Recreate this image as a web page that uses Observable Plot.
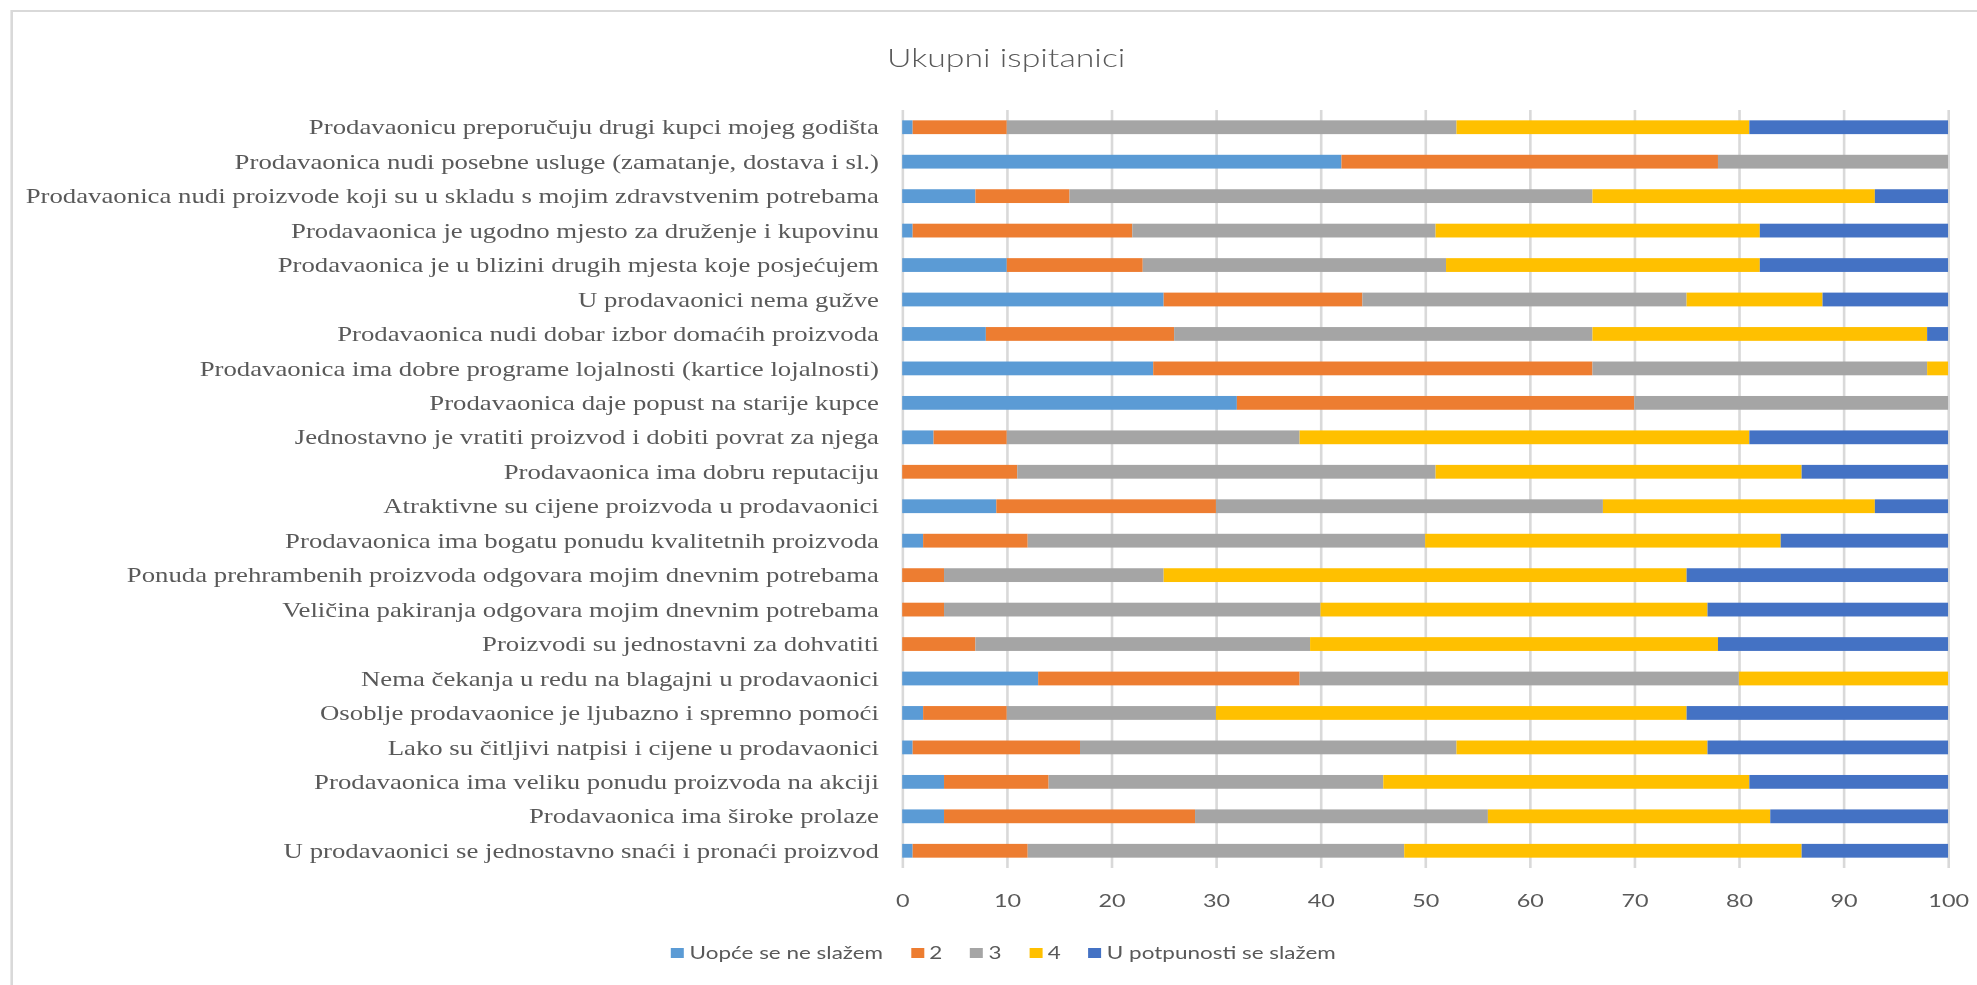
<!DOCTYPE html>
<html>
<head>
<meta charset="utf-8">
<script src="https://cdn.jsdelivr.net/npm/d3@7"></script>
<script src="https://cdn.jsdelivr.net/npm/@observablehq/plot@0.6"></script>
<style>
  html, body { margin:0; padding:0; background:#fff; overflow:hidden; width:1977px; height:985px; }
  #stage { position:absolute; left:0; top:0; width:1521px; height:985px; transform:scaleX(1.3); transform-origin:0 0; }
  #frame { position:absolute; left:7.5px; top:10px; width:1700px; height:1200px; border:2px solid #d9d9d9; box-sizing:border-box; }
  #title { position:absolute; left:0; width:1548px; top:44px; text-align:center; font-family:Lato, sans-serif; font-weight:300; font-size:26px; line-height:26px; color:#595959; }
  #chart { position:absolute; left:0; top:0; }
  #legend { position:absolute; left:0; width:1544px; top:943px; height:20px; display:flex; justify-content:center; align-items:center; font-family:Lato, sans-serif; font-size:17.3px; line-height:20px; color:#595959; }
  .item { display:flex; align-items:center; margin:0 10.75px; }
  .sw { width:10px; height:10px; margin-right:4px; }
  #chart svg [aria-label="y-axis tick label"] text { font-family:"Liberation Serif", "Times New Roman", serif; font-size:20.6px; fill:#595959; }
  #chart svg [aria-label="x-axis tick label"] text { font-family:Lato, sans-serif; font-size:18px; fill:#595959; }
</style>
</head>
<body>
<div id="stage">
  <div id="frame"></div>
  <div id="title">Ukupni ispitanici</div>
  <div id="chart"></div>
  <div id="legend"></div>
</div>
<script>
const categories = [
  "Prodavaonicu preporučuju drugi kupci mojeg godišta",
  "Prodavaonica nudi posebne usluge (zamatanje, dostava i sl.)",
  "Prodavaonica nudi proizvode koji su u skladu s mojim zdravstvenim potrebama",
  "Prodavaonica je ugodno mjesto za druženje i kupovinu",
  "Prodavaonica je u blizini drugih mjesta koje posjećujem",
  "U prodavaonici nema gužve",
  "Prodavaonica nudi dobar izbor domaćih proizvoda",
  "Prodavaonica ima dobre programe lojalnosti (kartice lojalnosti)",
  "Prodavaonica daje popust na starije kupce",
  "Jednostavno je vratiti proizvod i dobiti povrat za njega",
  "Prodavaonica ima dobru reputaciju",
  "Atraktivne su cijene proizvoda u prodavaonici",
  "Prodavaonica ima bogatu ponudu kvalitetnih proizvoda",
  "Ponuda prehrambenih proizvoda odgovara mojim dnevnim potrebama",
  "Veličina pakiranja odgovara mojim dnevnim potrebama",
  "Proizvodi su jednostavni za dohvatiti",
  "Nema čekanja u redu na blagajni u prodavaonici",
  "Osoblje prodavaonice je ljubazno i spremno pomoći",
  "Lako su čitljivi natpisi i cijene u prodavaonici",
  "Prodavaonica ima veliku ponudu proizvoda na akciji",
  "Prodavaonica ima široke prolaze",
  "U prodavaonici se jednostavno snaći i pronaći proizvod"
];

const levels = ["Uopće se ne slažem", "2", "3", "4", "U potpunosti se slažem"];
const colors = ["#5B9BD5", "#ED7D31", "#A5A5A5", "#FFC000", "#4472C4"];

const level1 = [1, 42, 7, 1, 10, 25, 8, 24, 32, 3, 0, 9, 2, 0, 0, 0, 13, 2, 1, 4, 4, 1];
const level2 = [9, 36, 9, 21, 13, 19, 18, 42, 38, 7, 11, 21, 10, 4, 4, 7, 25, 8, 16, 10, 24, 11];
const level3 = [43, 22, 50, 29, 29, 31, 40, 32, 30, 28, 40, 37, 38, 21, 36, 32, 42, 20, 36, 32, 28, 36];
const level4 = [28, 0, 27, 31, 30, 13, 32, 2, 0, 43, 35, 26, 34, 50, 37, 39, 20, 45, 24, 35, 27, 38];
const level5 = [19, 0, 7, 18, 18, 12, 2, 0, 0, 19, 14, 7, 16, 25, 23, 22, 0, 25, 23, 19, 17, 14];

const xTicks = [0, 10, 20, 30, 40, 50, 60, 70, 80, 90, 100];

const series = [level1, level2, level3, level4, level5];
const data = categories.flatMap((c, i) =>
  series.map((s, j) => ({category: c, level: levels[j], value: s[i]}))
);

const chart = Plot.plot({
  width: 1521,
  height: 925,
  marginLeft: 694,
  marginRight: 22.5,
  marginTop: 110,
  marginBottom: 57,
  style: {background: "transparent", color: "#595959", overflow: "visible"},
  x: {domain: [0, 100], ticks: xTicks, label: null},
  y: {domain: categories, paddingInner: 0.6, paddingOuter: 0.3, round: false, label: null},
  color: {domain: levels, range: colors},
  marks: [
    Plot.gridX(xTicks, {stroke: "#d9d9d9", strokeOpacity: 1, strokeWidth: 2}),
    Plot.barX(data, {x: "value", y: "category", fill: "level", inset: 0}),
    Plot.axisX({ticks: xTicks, tickSize: 0, tickPadding: 26, label: null}),
    Plot.axisY({tickSize: 0, tickPadding: 18.4, label: null})
  ]
});
document.getElementById("chart").appendChild(chart);

const legend = document.getElementById("legend");
levels.forEach((name, j) => {
  const item = document.createElement("div");
  item.className = "item";
  const sw = document.createElement("div");
  sw.className = "sw";
  sw.style.background = colors[j];
  const t = document.createElement("span");
  t.textContent = name;
  item.appendChild(sw);
  item.appendChild(t);
  legend.appendChild(item);
});
</script>
</body>
</html>
